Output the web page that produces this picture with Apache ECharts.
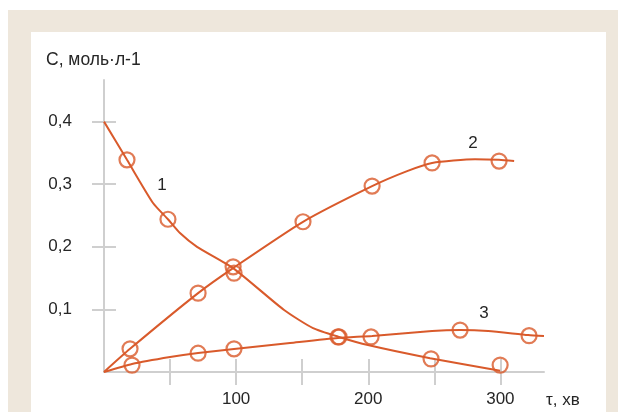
<!DOCTYPE html>
<html>
<head>
<meta charset="utf-8">
<script src="https://cdn.jsdelivr.net/npm/echarts@6/dist/echarts.min.js"></script>
<style>
  html, body { margin: 0; padding: 0; background: #ffffff; }
  #chart { width: 618px; height: 412px; }
</style>
</head>
<body>
<div id="chart"></div>
<script>
// Concentration C (mol/L) against time tau (min) for three species.
// Smoothed curves (line) and measured points (markers) are separate.
const curve1Line = [[0, 0.40], [17.4, 0.339], [37.1, 0.270], [48.4, 0.244], [57.5, 0.222],
  [70.4, 0.200], [97.7, 0.166], [136.3, 0.099], [158.2, 0.070], [177.9, 0.056], [199.7, 0.043],
  [246.8, 0.022], [299.8, 0.002]];
const curve1Points = [[17.4, 0.339], [48.4, 0.244], [98.4, 0.158], [177.9, 0.056],
  [247.5, 0.021], [299.8, 0.011]];

const curve2Line = [[0, 0], [19.7, 0.037], [71.2, 0.126], [97.7, 0.166], [150.6, 0.240],
  [202.9, 0.297], [229.4, 0.321], [248.3, 0.334], [280.8, 0.340], [299.0, 0.339],
  [310.4, 0.337]];
const curve2Points = [[19.7, 0.037], [71.2, 0.126], [97.7, 0.168], [150.6, 0.240],
  [202.9, 0.297], [248.3, 0.334], [299.0, 0.337]];

const curve3Line = [[0, 0], [21.2, 0.0128], [50, 0.024], [71.2, 0.0304], [98.4, 0.0367],
  [140.8, 0.0463], [177.1, 0.0543], [202.9, 0.0575], [248.3, 0.0655], [269.5, 0.0671],
  [290.7, 0.0655], [321.0, 0.0591], [333.0, 0.0575]];
const curve3Points = [[21.2, 0.011], [71.2, 0.030], [98.4, 0.037], [177.1, 0.056],
  [202.1, 0.056], [269.5, 0.067], [321.7, 0.058]];

const xTicks = [50, 100, 150, 200, 250, 300];
const xTickLabels = [100, 200, 300];
const yTicks = [0.1, 0.2, 0.3, 0.4];

const ORANGE = '#d95a2b';
const AXIS_GREY = '#cfcfcf';
const TEXT = '#262626';
const FONT = '"Liberation Sans", Arial, sans-serif';

const chart = echarts.init(document.getElementById('chart'), null, { renderer: 'canvas' });

function lineSeries(data) {
  return {
    type: 'line', data: data, smooth: 0.2, showSymbol: false, symbol: 'none',
    lineStyle: { color: ORANGE, width: 2 }, z: 3, silent: true
  };
}
function markerSeries(data) {
  return {
    type: 'scatter', data: data, symbol: 'circle', symbolSize: 15,
    itemStyle: { color: 'rgba(0,0,0,0)', borderColor: ORANGE, borderWidth: 2.2 },
    z: 4, silent: true
  };
}

const baseX = {
  type: 'value', min: 0, max: 333, position: 'bottom',
  splitLine: { show: false }
};
const baseY = {
  type: 'value', min: 0, max: 0.4665, position: 'left',
  splitLine: { show: false }
};

chart.setOption({
  animation: false,
  grid: { left: 104, top: 80, width: 440, height: 292 },
  xAxis: [
    Object.assign({}, baseX, {
      axisLine: { show: true, lineStyle: { color: AXIS_GREY, width: 2 } },
      axisTick: { show: true, customValues: xTicks, length: 13, lineStyle: { color: AXIS_GREY, width: 2 } },
      axisLabel: { customValues: xTickLabels, fontSize: 17, color: TEXT, fontFamily: FONT, margin: 19 }
    }),
    Object.assign({}, baseX, {
      offset: 0,
      axisLine: { show: false },
      axisTick: { show: true, inside: true, customValues: xTicks, length: 13, lineStyle: { color: AXIS_GREY, width: 2 } },
      axisLabel: { show: false }
    })
  ],
  yAxis: [
    Object.assign({}, baseY, {
      axisLine: { show: true, lineStyle: { color: AXIS_GREY, width: 2 } },
      axisTick: { show: true, customValues: yTicks, length: 12, lineStyle: { color: AXIS_GREY, width: 2 } },
      axisLabel: {
        customValues: yTicks, fontSize: 17, color: TEXT, fontFamily: FONT, margin: 32,
        formatter: v => v.toFixed(1).replace('.', ',')
      }
    }),
    Object.assign({}, baseY, {
      offset: 0,
      axisLine: { show: false },
      axisTick: { show: true, inside: true, customValues: yTicks, length: 12, lineStyle: { color: AXIS_GREY, width: 2 } },
      axisLabel: { show: false }
    })
  ],
  series: [
    lineSeries(curve1Line), markerSeries(curve1Points),
    lineSeries(curve2Line), markerSeries(curve2Points),
    lineSeries(curve3Line), markerSeries(curve3Points)
  ],
  graphic: [
    { type: 'rect', z: -20, silent: true, shape: { x: 8, y: 10, width: 610, height: 402 }, style: { fill: '#eee7dc' } },
    { type: 'rect', z: -19, silent: true, shape: { x: 31, y: 32, width: 575, height: 380 }, style: { fill: '#ffffff' } },
    { type: 'text', z: 10, x: 46, y: 60, style: { text: 'С, моль·л-1', fontSize: 17.5, fontFamily: FONT, fill: TEXT, align: 'left', verticalAlign: 'middle' } },
    { type: 'text', z: 10, x: 546, y: 400, style: { text: 'τ, хв', fontSize: 17, fontFamily: FONT, fill: TEXT, align: 'left', verticalAlign: 'middle' } },
    { type: 'text', z: 10, x: 162, y: 185, style: { text: '1', fontSize: 17, fontFamily: FONT, fill: TEXT, align: 'center', verticalAlign: 'middle' } },
    { type: 'text', z: 10, x: 473, y: 143, style: { text: '2', fontSize: 17, fontFamily: FONT, fill: TEXT, align: 'center', verticalAlign: 'middle' } },
    { type: 'text', z: 10, x: 484, y: 313, style: { text: '3', fontSize: 17, fontFamily: FONT, fill: TEXT, align: 'center', verticalAlign: 'middle' } }
  ]
});
</script>
</body>
</html>
